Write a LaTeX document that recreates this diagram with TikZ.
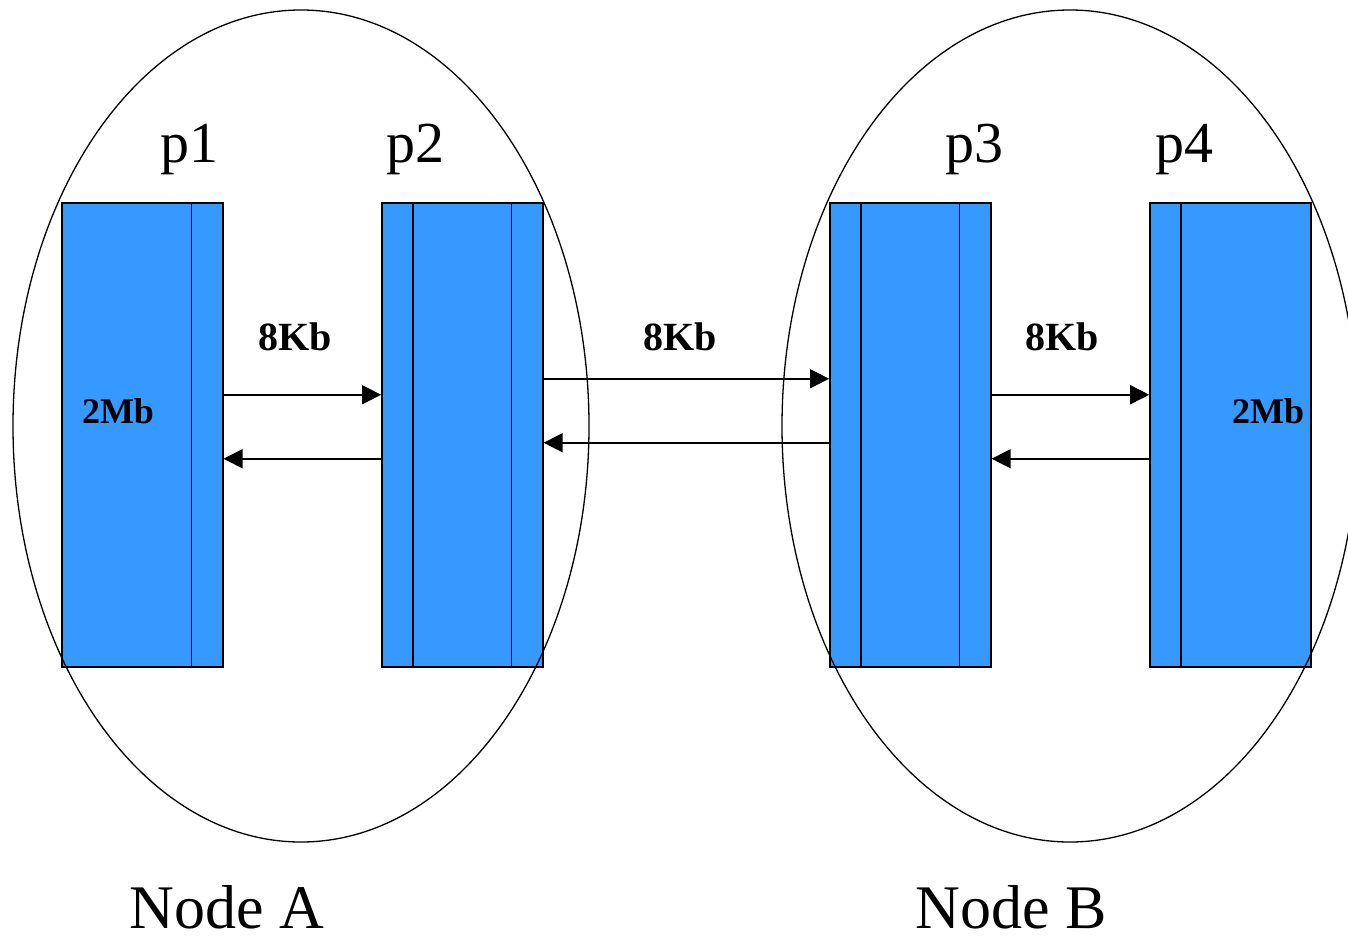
\documentclass[tikz,border=0pt]{standalone}
\usepackage{fontspec}
\setmainfont{Liberation Serif}
\usepackage{xcolor}
\usepackage{tikz}
\usetikzlibrary{positioning, shapes.geometric, arrows.meta}
\definecolor{procblue}{RGB}{54,153,255}

\begin{document}
\begin{tikzpicture}[x=1pt, y=-1pt, node distance=157.6pt,
    proc/.style={draw, rectangle, fill=procblue, line width=1.5pt, minimum width=161pt, minimum height=464pt, inner sep=0pt},
    host/.style={draw, ellipse, line width=1.3pt, minimum width=576pt, minimum height=832pt, inner sep=0pt},
    msg/.style={-{Triangle[length=19pt,width=19pt]}, line width=1.5pt},
    lbl/.style={anchor=base, inner sep=0pt}]
        \useasboundingbox (0,0) rectangle (1348,937);

        % Processes
        \node (p1) [proc, anchor=north west] at (61,202) {};
        \node (p2) [proc, right=of p1] {};
        \node (p3) [proc, right=285.5pt of p2] {};
        \node (p4) [proc, right=of p3] {};

        % Dividers
        \draw[line width=1.5pt] ([xshift=-32pt]p1.north east) -- ([xshift=-32pt]p1.south east);
        \draw[line width=1.5pt] ([xshift=32pt]p2.north west) -- ([xshift=32pt]p2.south west);
        \draw[line width=1.5pt] ([xshift=-32pt]p2.north east) -- ([xshift=-32pt]p2.south east);
        \draw[line width=1.5pt] ([xshift=32pt]p3.north west) -- ([xshift=32pt]p3.south west);
        \draw[line width=1.5pt] ([xshift=-32pt]p3.north east) -- ([xshift=-32pt]p3.south east);
        \draw[line width=1.5pt] ([xshift=32pt]p4.north west) -- ([xshift=32pt]p4.south west);

        % Hosts
        \node (hostA) [host] at (301,426) {};
        \node (hostB) [host] at (1070,426) {};

        % Arrows
        \draw[msg] ([yshift=40pt]p1.east) -- ([yshift=40pt]p2.west);
        \draw[msg] ([yshift=-24pt]p2.west) -- ([yshift=-24pt]p1.east);
        \draw[msg] ([yshift=56pt]p2.east) -- ([yshift=56pt]p3.west);
        \draw[msg] ([yshift=-8pt]p3.west) -- ([yshift=-8pt]p2.east);
        \draw[msg] ([yshift=40pt]p3.east) -- ([yshift=40pt]p4.west);
        \draw[msg] ([yshift=-24pt]p4.west) -- ([yshift=-24pt]p3.east);

        % Labels
        \node (lp1) [lbl, font=\fontsize{58}{60}\selectfont] at (189,162) {p1};
        \node (lp2) [lbl, font=\fontsize{58}{60}\selectfont] at (415,162) {p2};
        \node (lp3) [lbl, font=\fontsize{58}{60}\selectfont] at (974,162) {p3};
        \node (lp4) [lbl, font=\fontsize{58}{60}\selectfont] at (1184,162) {p4};

        \node (kb12) [lbl, font=\fontsize{40}{42}\selectfont\bfseries] at (295,350) {8Kb};
        \node (kb23) [lbl, font=\fontsize{40}{42}\selectfont\bfseries] at (680,350) {8Kb};
        \node (kb34) [lbl, font=\fontsize{40}{42}\selectfont\bfseries] at (1062,350) {8Kb};

        \node (mb1) [lbl, font=\fontsize{36}{38}\selectfont\bfseries] at (118,423) {2Mb};
        \node (mb4) [lbl, font=\fontsize{36}{38}\selectfont\bfseries] at (1268,423) {2Mb};

        \node (nameA) [lbl, font=\fontsize{62}{64}\selectfont] at (227,928) {Node A};
        \node (nameB) [lbl, font=\fontsize{62}{64}\selectfont] at (1011,928) {Node B};

    \end{tikzpicture}
\end{document}
